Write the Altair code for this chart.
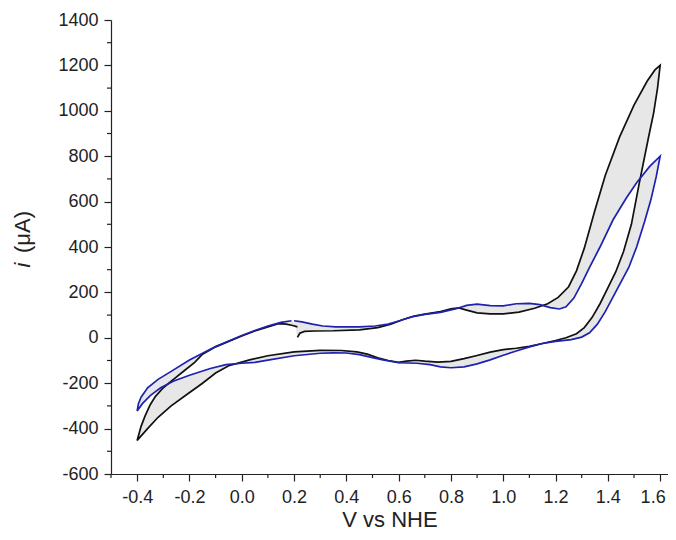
import altair as alt
import pandas as pd

# ---- data (V vs NHE, current in µA), in scan order ----
black_v = [0.213, 0.222, 0.24, 0.28, 0.35, 0.45, 0.52, 0.57, 0.62, 0.66, 0.70, 0.76, 0.80, 0.83, 0.86,
           0.90, 0.95, 1.00, 1.06, 1.12, 1.17, 1.21, 1.25, 1.28, 1.31, 1.35, 1.39, 1.445, 1.50, 1.55,
           1.58, 1.60,
           1.59, 1.575, 1.555, 1.52, 1.49, 1.46, 1.43, 1.40, 1.37, 1.34, 1.31, 1.28, 1.24, 1.20, 1.15,
           1.10, 1.05, 1.00, 0.95, 0.90, 0.85, 0.80, 0.75, 0.70, 0.665, 0.63, 0.60, 0.56, 0.52, 0.48,
           0.44, 0.38, 0.30, 0.20, 0.10, 0.03, 0.00, -0.05, -0.10, -0.15, -0.21, -0.27, -0.32, -0.36,
           -0.40,
           -0.385, -0.37, -0.35, -0.33, -0.30, -0.26, -0.22, -0.18, -0.15, -0.10, -0.05, 0.00, 0.05,
           0.10, 0.14, 0.17, 0.195, 0.213]
black_i = [2, 20, 28, 30, 31, 35, 45, 60, 82, 96, 104, 116, 128, 132, 122,
           110, 105, 105, 113, 130, 150, 178, 225, 295, 395, 560, 715, 885, 1025, 1130,
           1180, 1200,
           1100, 990, 880, 680, 500, 380, 290, 220, 150, 90, 45, 18, 0, -12, -25,
           -38, -46, -52, -63, -78, -92, -104, -107, -103, -99, -103, -108, -100, -88, -72,
           -62, -56, -55, -62, -79, -97, -107, -123, -155, -200, -250, -300, -350, -400,
           -452,
           -390, -345, -295, -258, -220, -182, -145, -108, -72, -40, -16, 8, 30,
           48, 62, 60, 54, 48]

blue_v = [0.20, 0.23, 0.27, 0.31, 0.36, 0.45, 0.51, 0.56, 0.60, 0.65, 0.70, 0.76, 0.82, 0.86, 0.90,
          0.95, 1.00, 1.05, 1.10, 1.14, 1.18, 1.215, 1.24, 1.27, 1.30, 1.33, 1.37, 1.42, 1.47, 1.51,
          1.56, 1.60,
          1.585, 1.565, 1.54, 1.51, 1.48, 1.45, 1.42, 1.39, 1.36, 1.33, 1.30, 1.26, 1.20, 1.15, 1.10,
          1.05, 1.00, 0.95, 0.90, 0.85, 0.80, 0.76, 0.72, 0.67, 0.60, 0.54, 0.50, 0.45, 0.40, 0.35,
          0.30, 0.20, 0.10, 0.05, 0.00, -0.06, -0.12, -0.20, -0.26, -0.31, -0.35, -0.38, -0.40,
          -0.395, -0.385, -0.36, -0.32, -0.27, -0.20, -0.15, -0.10, -0.05, 0.00, 0.05, 0.10, 0.15,
          0.19]
blue_i = [75, 70, 60, 52, 48, 48, 52, 60, 74, 92, 103, 112, 128, 143, 148,
          142, 141, 150, 152, 146, 133, 127, 137, 175, 240, 310, 400, 520, 615, 683,
          755, 800,
          710, 610, 510, 400, 310, 245, 180, 115, 60, 22, 3, -8, -16, -25, -40,
          -58, -77, -97, -115, -128, -132, -128, -118, -112, -110, -97, -87, -74, -67, -66,
          -68, -79, -98, -108, -112, -118, -135, -165, -190, -220, -255, -290, -322,
          -290, -262, -220, -183, -148, -98, -68, -38, -14, 10, 32, 52, 68,
          75]

x_major = [-0.4, -0.2, 0.0, 0.2, 0.4, 0.6, 0.8, 1.0, 1.2, 1.4, 1.6]
x_minor = [-0.5, -0.3, -0.1, 0.1, 0.3, 0.5, 0.7, 0.9, 1.1, 1.3, 1.5]
y_major = [-600, -400, -200, 0, 200, 400, 600, 800, 1000, 1200, 1400]
y_minor = [-500, -300, -100, 100, 300, 500, 700, 900, 1100, 1300]

black = pd.DataFrame({"v": black_v, "i": black_i, "idx": range(len(black_v))})
blue = pd.DataFrame({"v": blue_v, "i": blue_i, "idx": range(len(blue_v))})
band = pd.DataFrame({"v": black_v + blue_v[::-1], "i": black_i + blue_i[::-1],
                     "idx": range(len(black_v) + len(blue_v))})
xmin_df = pd.DataFrame({"v": x_minor})
ymin_df = pd.DataFrame({"i": y_minor})

FONT = "Liberation Sans"
W, H = 557, 454
AX = "#222222"
HYPHEN = "replace(datum.label, '\u2212', '-')"

x_enc = alt.X(
    "v:Q",
    scale=alt.Scale(domain=[-0.5, 1.63], nice=False, zero=False),
    axis=alt.Axis(
        values=x_major, format=".1f", labelExpr=HYPHEN, title="V vs NHE", grid=False,
        tickSize=7, labelPadding=7, labelFlush=10, labelFlushOffset=5, labelOverlap=False,
        titleY=52, titleBaseline="alphabetic", titleFontSize=22,
    ),
)
y_enc = alt.Y(
    "i:Q",
    scale=alt.Scale(domain=[-600, 1400], nice=False, zero=False),
    axis=alt.Axis(
        values=y_major, format="d", labelExpr=HYPHEN, title=None, grid=False,
        tickSize=7, labelPadding=6, labelOverlap=False, labelFlush=False,
    ),
)

fill = alt.Chart(band).mark_line(fill="#e7e7e7", stroke="#d4d4d4", strokeWidth=0.6).encode(
    x=x_enc, y=y_enc, order="idx:Q"
)
black_line = alt.Chart(black).mark_line(color="#111111", strokeWidth=1.7).encode(
    x="v:Q", y="i:Q", order="idx:Q"
)
blue_line = alt.Chart(blue).mark_line(color="#1e22b0", strokeWidth=1.7).encode(
    x="v:Q", y="i:Q", order="idx:Q"
)

x_minor_ticks = alt.Chart(xmin_df).mark_rule(color=AX, strokeWidth=1.2).encode(
    x="v:Q", y=alt.value(H), y2=alt.value(H + 4)
)
y_minor_ticks = alt.Chart(ymin_df).mark_rule(color=AX, strokeWidth=1.2).encode(
    y="i:Q", x=alt.value(-4), x2=alt.value(0)
)

one = pd.DataFrame({"k": [0]})
t1 = alt.Chart(one).mark_text(text="(μA)", angle=270, align="center", baseline="middle",
                              font=FONT, fontSize=22, color=AX).encode(
    x=alt.value(-88), y=alt.value(212))
t2 = alt.Chart(one).mark_text(text="i", angle=270, align="center", baseline="middle",
                              font=FONT, fontSize=22, fontStyle="italic", color=AX).encode(
    x=alt.value(-88), y=alt.value(245))

chart = (
    alt.layer(fill, black_line, blue_line, x_minor_ticks, y_minor_ticks, t1, t2)
    .properties(width=W, height=H, autosize=alt.AutoSizeParams(type="none"),
                padding={"left": 103, "top": 12, "right": 0, "bottom": 58})
    .configure_view(stroke=None)
    .configure_axis(
        labelFont=FONT, titleFont=FONT, labelFontSize=18, labelColor=AX,
        titleColor=AX, titleFontWeight="normal",
        domainColor=AX, tickColor=AX, domainWidth=1.2, tickWidth=1.2,
    )
)

chart.save("out.html", embed_options={"renderer": "svg", "actions": False})
